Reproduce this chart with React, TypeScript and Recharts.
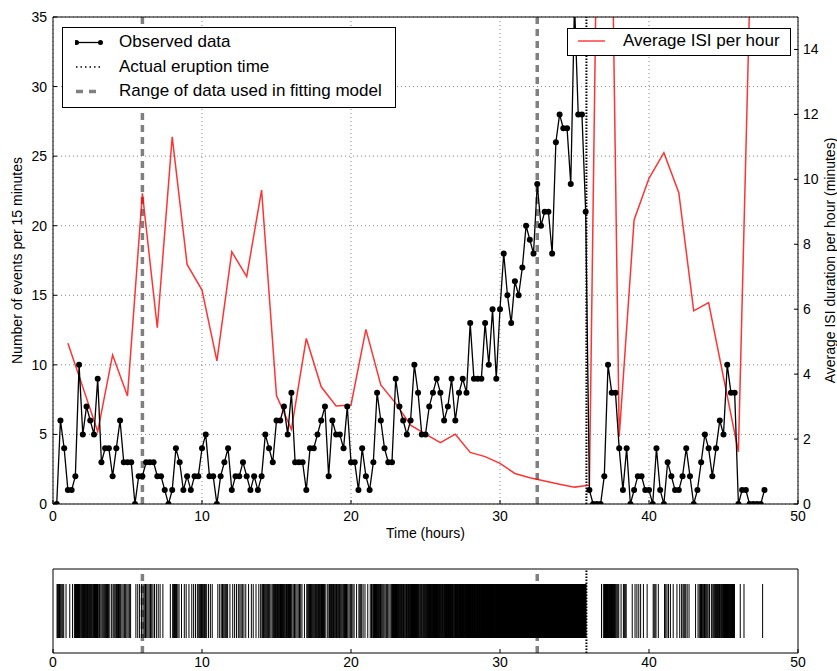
import React from "react";
import {
  ComposedChart,
  ScatterChart,
  Line,
  Scatter,
  XAxis,
  YAxis,
  CartesianGrid,
  ReferenceLine,
  Label,
} from "recharts";

const FONT = '"Liberation Sans", Arial, sans-serif';
const BIN_HOURS = 0.25;

// events per 15-minute bin (value plotted at the end of each bin, first bin ends at 0.25 h)
const countsHours0to12 = [
  0, 6, 4, 1, 1, 2, 10, 5, 7, 6, 5, 9,
  3, 4, 4, 2, 4, 6, 3, 3, 3, 0, 2, 2,
  3, 3, 3, 2, 2, 1, 0, 1, 4, 3, 1, 2,
  1, 2, 2, 4, 5, 2, 2, 0, 2, 3, 4, 1,
];
const countsHours12to24 = [
  2, 2, 3, 2, 1, 2, 1, 2, 5, 4, 3, 6,
  6, 7, 5, 8, 3, 3, 3, 1, 4, 4, 5, 6,
  7, 2, 6, 5, 5, 4, 7, 3, 3, 1, 4, 2,
  1, 3, 8, 6, 4, 3, 3, 9, 7, 6, 5, 6,
];
const countsHours24to36 = [
  10, 8, 5, 5, 7, 8, 9, 8, 6, 7, 9, 6,
  8, 9, 8, 13, 9, 9, 9, 13, 10, 14, 9, 14,
  18, 15, 13, 16, 15, 17, 20, 19, 18, 23, 20, 21,
  21, 18, 26, 28, 27, 27, 23, 36, 28, 28, 21, 1,
];
const countsHours36to48 = [
  0, 0, 0, 2, 10, 8, 8, 4, 1, 4, 0, 1,
  2, 2, 1, 1, 0, 4, 1, 0, 3, 2, 1, 1,
  2, 4, 2, 0, 1, 3, 5, 4, 2, 4, 6, 5,
  10, 8, 8, 0, 1, 1, 0, 0, 0, 0, 1,
];

// average inter-event interval for each hour (minutes)
const isiHours = [
  1, 2, 3, 4, 5, 6, 7, 8, 9, 10, 11, 12, 13, 14, 15, 16, 17, 18, 19, 20, 21, 22, 23, 24,
  25, 26, 27, 28, 29, 30, 31, 32, 33, 34, 35, 36, 37, 38, 39, 40, 41, 42, 43, 44, 45, 46, 47,
];
const isiMinutes = [
  4.95, 3.6, 2.23, 4.59, 3.33, 9.57, 5.43, 11.31, 7.38, 6.59, 4.41, 7.77, 7.0, 9.67, 3.34, 2.3,
  5.1, 3.61, 3.02, 3.05, 5.38, 3.67, 3.1, 2.43, 2.15, 1.89, 2.15, 1.59, 1.46, 1.25, 0.94, 0.81,
  0.71, 0.61, 0.52, 0.58, 35, 2.07, 8.75, 10.03, 10.82, 9.59, 5.95, 6.2, 3.9, 1.61, 20,
];

const fitRange = [6, 32.5];
const eruptionTime = 35.8;

const xTicks = [0, 10, 20, 30, 40, 50];
const leftTicks = [0, 5, 10, 15, 20, 25, 30, 35];
const rightTicks = [0, 2, 4, 6, 8, 10, 12, 14];

const allCounts = [
  ...countsHours0to12,
  ...countsHours12to24,
  ...countsHours24to36,
  ...countsHours36to48,
];
const countData = allCounts.map((count, i) => ({ t: (i + 1) * BIN_HOURS, count }));
const isiData = isiHours.map((t, i) => ({ t, isi: isiMinutes[i] }));

// raster: the counted events of each bin, spread across that bin
// (a bin cut by the eruption only keeps its part before the eruption)
const eventData = countData.flatMap(({ t, count }) => {
  const start = t - BIN_HOURS;
  const end = start < eruptionTime && t > eruptionTime ? eruptionTime : t;
  return Array.from({ length: count }, (_, k) => ({
    t: start + ((k + 0.5) * (end - start)) / count,
    y: 0.5,
  }));
});

const tickStyle = { fill: "#000", fontSize: 14, fontFamily: FONT };
const black = { stroke: "#000" };

const EventTick = (props: any) => (
  <line
    x1={props.cx}
    x2={props.cx}
    y1={props.cy - 27}
    y2={props.cy + 27}
    stroke="#000"
    strokeWidth={1}
  />
);

const markerLines = (yId: string) => [
  ...fitRange.map((x) => (
    <ReferenceLine
      key={"fit" + x}
      xAxisId="b"
      yAxisId={yId}
      x={x}
      stroke="#808080"
      strokeWidth={3.5}
      strokeDasharray="7 5"
    />
  )),
  <ReferenceLine
    key="eruption"
    xAxisId="b"
    yAxisId={yId}
    x={eruptionTime}
    stroke="#000"
    strokeWidth={2}
    strokeDasharray="1.5 1.5"
  />,
];

const legendText: React.CSSProperties = {
  position: "absolute",
  fontSize: 17,
  lineHeight: "20px",
  whiteSpace: "nowrap",
  color: "#000",
};

const Legends = () => (
  <>
    <div
      style={{
        position: "absolute",
        left: 62,
        top: 27,
        width: 334,
        height: 81,
        boxSizing: "border-box",
        border: "1px solid #000",
        background: "#fff",
      }}
    >
      <svg style={{ position: "absolute", left: 12, top: 0 }} width={28} height={80}>
        <line x1={1} x2={26} y1={14.5} y2={14.5} stroke="#000" strokeWidth={1.3} />
        <circle cx={1.5} cy={14.5} r={2.5} fill="#000" />
        <circle cx={25.5} cy={14.5} r={2.5} fill="#000" />
        <line x1={1} x2={26} y1={39} y2={39} stroke="#000" strokeWidth={1.5} strokeDasharray="1.5 3" />
        <line x1={1} x2={26} y1={63.5} y2={63.5} stroke="#808080" strokeWidth={3.5} strokeDasharray="7 6" />
      </svg>
      <span style={{ ...legendText, left: 56, top: 4 }}>Observed data</span>
      <span style={{ ...legendText, left: 56, top: 28.5 }}>Actual eruption time</span>
      <span style={{ ...legendText, left: 56, top: 53 }}>Range of data used in fitting model</span>
    </div>
    <div
      style={{
        position: "absolute",
        left: 567,
        top: 28,
        width: 224,
        height: 28,
        boxSizing: "border-box",
        border: "1px solid #000",
        background: "#fff",
      }}
    >
      <svg style={{ position: "absolute", left: 10, top: 0 }} width={30} height={26}>
        <line x1={0} x2={27} y1={12} y2={12} stroke="#ff0000" strokeOpacity={0.75} strokeWidth={1.5} />
      </svg>
      <span style={{ ...legendText, left: 55, top: 2 }}>Average ISI per hour</span>
    </div>
  </>
);

export default function App() {
  return (
    <div
      style={{
        position: "absolute",
        left: 0,
        top: 0,
        width: 837,
        height: 671,
        background: "#fff",
        fontFamily: FONT,
      }}
    >
      <div style={{ position: "absolute", left: 0, top: 0 }}>
        <ComposedChart width={837} height={545} margin={{ top: 16, right: 5, bottom: 5, left: 5 }}>
          <CartesianGrid xAxisId="b" yAxisId="l" stroke="#888" strokeDasharray="1 3" />
          <XAxis
            xAxisId="b"
            type="number"
            dataKey="t"
            domain={[0, 50]}
            ticks={xTicks}
            allowDataOverflow
            height={36}
            tickSize={-4}
            tickMargin={11}
            tick={tickStyle}
            axisLine={black}
            tickLine={black}
          >
            <Label
              value="Time (hours)"
              position="insideBottom"
              offset={2}
              fill="#000"
              fontSize={14}
              fontFamily={FONT}
            />
          </XAxis>
          <XAxis
            xAxisId="top"
            orientation="top"
            type="number"
            domain={[0, 50]}
            ticks={xTicks}
            allowDataOverflow
            height={1}
            tickSize={-4}
            tick={false}
            axisLine={black}
            tickLine={black}
          />
          <YAxis
            yAxisId="l"
            type="number"
            domain={[0, 35]}
            ticks={leftTicks}
            allowDataOverflow
            width={48}
            tickSize={-4}
            tickMargin={10}
            tick={tickStyle}
            axisLine={black}
            tickLine={black}
          >
            <Label
              value="Number of events per 15 minutes"
              angle={-90}
              position="insideLeft"
              offset={12}
              fill="#000"
              fontSize={14}
              fontFamily={FONT}
              style={{ textAnchor: "middle" }}
            />
          </YAxis>
          <YAxis
            yAxisId="r"
            orientation="right"
            type="number"
            domain={[0, 15]}
            ticks={rightTicks}
            allowDataOverflow
            width={34}
            tickSize={-4}
            tickMargin={9}
            tick={tickStyle}
            axisLine={black}
            tickLine={black}
          >
            <Label
              value="Average ISI duration per hour (minutes)"
              angle={-90}
              position="insideRight"
              offset={2}
              fill="#000"
              fontSize={14}
              fontFamily={FONT}
              style={{ textAnchor: "middle" }}
            />
          </YAxis>
          {markerLines("l")}
          <Line
            xAxisId="b"
            yAxisId="r"
            data={isiData}
            dataKey="isi"
            type="linear"
            stroke="#ff0000"
            strokeOpacity={0.8}
            strokeWidth={1.5}
            dot={false}
            isAnimationActive={false}
          />
          <Line
            xAxisId="b"
            yAxisId="l"
            data={countData}
            dataKey="count"
            type="linear"
            stroke="#000"
            strokeWidth={1.3}
            dot={{ r: 3, fill: "#000", stroke: "#000", strokeWidth: 0 }}
            isAnimationActive={false}
          />
        </ComposedChart>
      </div>

      <div style={{ position: "absolute", left: 0, top: 556 }}>
        <ScatterChart width={837} height={115} margin={{ top: 12, right: 5, bottom: 0, left: 5 }}>
          <XAxis
            xAxisId="b"
            type="number"
            dataKey="t"
            domain={[0, 50]}
            ticks={xTicks}
            allowDataOverflow
            height={18}
            tickSize={-4}
            tickMargin={8}
            tick={tickStyle}
            axisLine={black}
            tickLine={black}
          />
          <XAxis
            xAxisId="top"
            orientation="top"
            type="number"
            domain={[0, 50]}
            ticks={xTicks}
            allowDataOverflow
            height={1}
            tickSize={-4}
            tick={false}
            axisLine={black}
            tickLine={black}
          />
          <YAxis
            yAxisId="l"
            type="number"
            dataKey="y"
            domain={[0, 1]}
            allowDataOverflow
            width={48}
            tick={false}
            tickLine={false}
            axisLine={black}
          />
          <YAxis
            yAxisId="r"
            orientation="right"
            type="number"
            domain={[0, 1]}
            allowDataOverflow
            width={34}
            tick={false}
            tickLine={false}
            axisLine={black}
          />
          <Scatter
            xAxisId="b"
            yAxisId="l"
            data={eventData}
            dataKey="y"
            shape={EventTick}
            isAnimationActive={false}
          />
          {markerLines("l")}
        </ScatterChart>
      </div>

      <Legends />
    </div>
  );
}
